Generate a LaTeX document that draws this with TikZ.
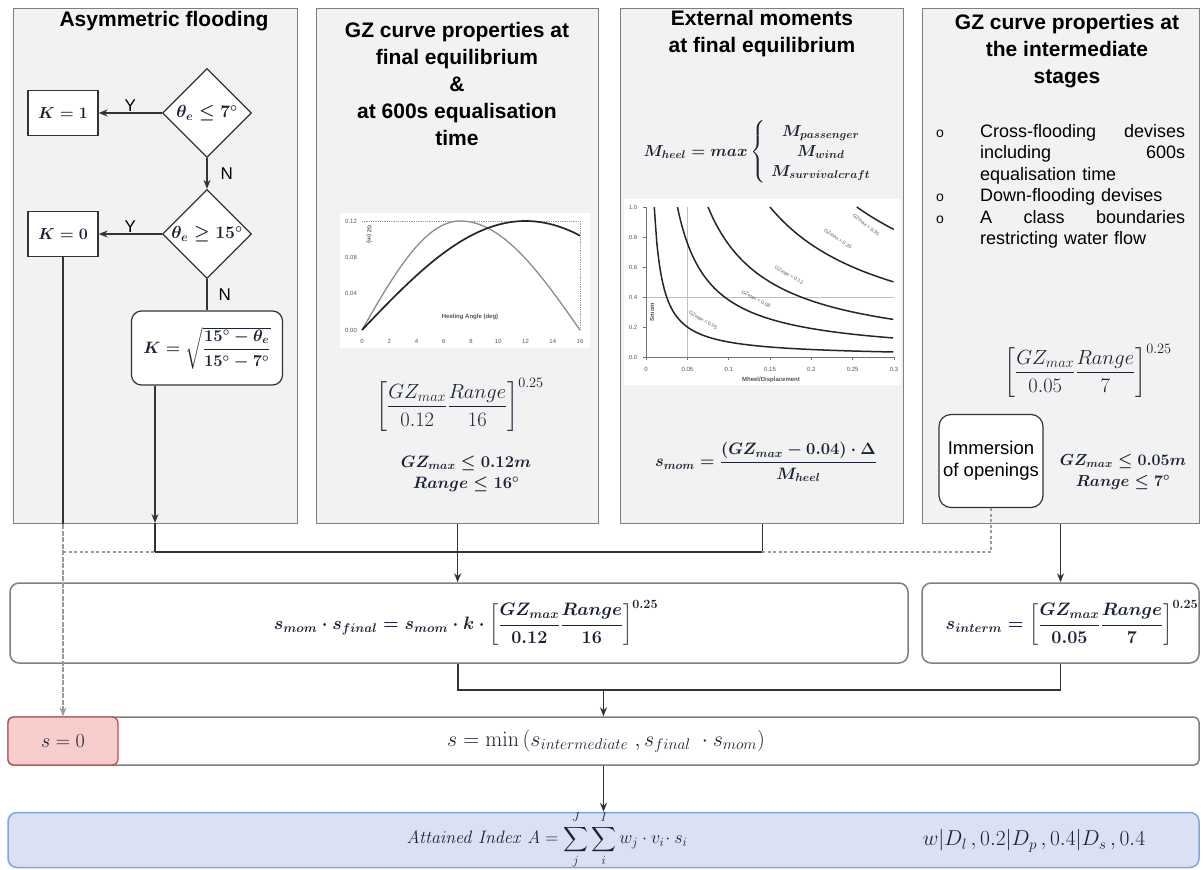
\RequirePackage{fix-cm}
\documentclass[tikz,border=0pt]{standalone}
\usepackage{amsmath}
\usepackage[no-math]{fontspec}
\setmainfont{Liberation Sans}
\usetikzlibrary{shapes.geometric,arrows.meta,calc}
\definecolor{panelfill}{HTML}{F2F2F2}
\definecolor{paneldraw}{HTML}{7F7F7F}
\definecolor{linec}{HTML}{333333}
\definecolor{mathc}{HTML}{1A2233}
\definecolor{redfill}{HTML}{F8CECC}
\definecolor{reddraw}{HTML}{B85450}
\definecolor{bluefill}{HTML}{D9E1F2}
\definecolor{bluedraw}{HTML}{7EA6E0}
\definecolor{dashc}{HTML}{9A9A9A}
\definecolor{tickc}{HTML}{555555}
\newcommand{\fsz}[2]{\fontsize{#1}{#2}\selectfont}
\begin{document}
\begin{tikzpicture}[x=1pt,y=-1pt,
  panel/.style={draw=paneldraw,fill=panelfill,line width=1.2pt,rectangle,inner sep=0pt,anchor=north west},
  ttl/.style={font=\fsz{21}{27}\bfseries,align=center,inner sep=0pt},
  dec/.style={diamond,draw=linec,fill=white,line width=1.2pt,minimum width=89pt,minimum height=89pt,inner sep=0pt,font=\fsz{17.5}{20}\boldmath,text=mathc},
  kbox/.style={rectangle,draw=linec,fill=white,line width=1.3pt,minimum width=70pt,minimum height=45pt,font=\fsz{16}{19}\boldmath,text=mathc},
  rbox/.style={rectangle,rounded corners=10pt,draw=linec,fill=white,line width=1.2pt},
  wbox/.style={rectangle,rounded corners=9pt,draw=paneldraw,fill=white,line width=1.5pt,inner sep=0pt},
  conn/.style={draw=linec,line width=1.2pt},
  arr/.style={conn,-{Stealth[length=9pt,width=7pt]}},
  dotline/.style={draw=dashc,line width=1.2pt,dash pattern=on 3pt off 2.5pt},
  garr/.style={draw=dashc,line width=1.2pt,dash pattern=on 5pt off 1.5pt,-{Stealth[length=9pt,width=7pt]}},
  lbl/.style={font=\fsz{17}{20},inner sep=1pt},
  fm/.style={font=\fsz{20.5}{24},text=mathc,inner sep=0pt},
  fmb/.style={font=\fsz{16.5}{21.5}\boldmath,text=mathc,inner sep=0pt,align=center},
  tick/.style={font=\fsz{6}{7},text=tickc,inner sep=0pt},
  bul/.style={font=\fsz{18}{21.5},text width=205pt,align=left,inner sep=0pt,anchor=north west},
]
\useasboundingbox (0,0) rectangle (1203,870);

% ---------- panels ----------
\node[panel,minimum width=284pt,minimum height=515pt] (p1) at (13,8) {};
\node[panel,minimum width=282pt,minimum height=515pt] (p2) at (316,8) {};
\node[panel,minimum width=283pt,minimum height=515pt] (p3) at (620,8) {};
\node[panel,minimum width=277pt,minimum height=515pt] (p4) at (922,8) {};

\node[ttl] (t1) at (164,21) {Asymmetric flooding};
\node[ttl] (t2) at (457,84) {GZ curve properties at\\final equilibrium\\\&\\at 600s equalisation\\time};
\node[ttl] (t3) at (762,34) {External moments\\at final equilibrium};
\node[ttl] (t4) at (1067,51) {GZ curve properties at\\the intermediate\\stages};

% ---------- panel 1 flowchart ----------
\node[dec] (d1) at (207,113) {$\theta_e\le 7^\circ$};
\node[dec] (d2) at (207,234) {$\theta_e\ge 15^\circ$};
\node[kbox] (k1) at (63,113) {$K=1$};
\node[kbox] (k0) at (63,234) {$K=0$};
\node[rbox,minimum width=151pt,minimum height=74pt,font=\fsz{16.5}{19}\boldmath,text=mathc] (ksq) at (207,348)
  {$K=\sqrt{\dfrac{15^\circ-\theta_e}{15^\circ-7^\circ}}$};

\draw[arr] (d1.west) -- node[lbl,above] (y1) {Y} (k1.east);
\draw[arr] (d1.south) -- node[lbl,right=12pt] (n1) {N} (d2.north);
\draw[arr] (d2.west) -- node[lbl,above] (y2) {Y} (k0.east);
\draw[conn] (d2.south) -- node[lbl,right=10pt] (n2) {N} (ksq.north);

% ---------- panel 2 chart ----------
\node[rectangle,fill=white,minimum width=250pt,minimum height=135pt,anchor=north west,inner sep=0pt] (ch1) at (340,213) {};
\draw[dashc,line width=0.8pt,densely dotted] (362,221) -- (580,221) -- (580,330);
\draw[black!45,line width=1.3pt] plot[domain=0:7.2,samples=40,smooth] ({362+13.625*\x},{330-109*sin(90*\x/7.2)});
\draw[black!45,line width=1.3pt] plot[domain=7.2:16,samples=40,smooth] ({362+13.625*\x},{330-109*cos(90*(\x-7.2)/8.8)});
\draw[black!85,line width=1.7pt] plot[domain=0:16,samples=60,smooth] ({362+13.625*\x},{330-109*sin(7.5*\x)});
\foreach \v/\t [count=\i] in {0/0.00,0.04/0.04,0.08/0.08,0.12/0.12}
  \node[tick] (gy\i) at (351,{330-908*\v}) {\t};
\foreach \v [count=\i] in {0,2,4,6,8,10,12,14,16}
  \node[tick] (gx\i) at ({362+13.625*\v},341) {\v};
\node[tick,rotate=-90,font=\fsz{5.5}{6}\bfseries] (gzl) at (369,234) {GZ (m)};
\node[tick,font=\fsz{6}{7}\bfseries] (hal) at (470,317) {Heeling Angle (deg)};

\node[fm] (f2) at (460,405) {$\displaystyle\left[\frac{GZ_{max}}{0.12}\frac{Range}{16}\right]^{0.25}$};
\node[fmb] (c2) at (466,474) {$GZ_{max}\le 0.12m$\\$Range\le 16^\circ$};

% ---------- panel 3 ----------
\node[fmb,font=\fsz{16}{20}\boldmath] (mh) at (760,152)
  {$M_{heel}=max\left\{\begin{array}{c}M_{passenger}\\M_{wind}\\M_{survivalcraft}\end{array}\right.$};

\node[rectangle,fill=white,minimum width=277pt,minimum height=186pt,anchor=north west,inner sep=0pt] (ch2) at (624,199) {};
\draw[black!25,line width=0.8pt] (646,297) -- (894,297);
\draw[black!25,line width=0.8pt] (687.3,207) -- (687.3,357);
\draw[black!55,line width=0.7pt] (646,207) -- (646,357) -- (894,357);
\foreach \k in {0,1,...,5} \draw[black!55,line width=0.7pt] (643,{357-30*\k}) -- (646,{357-30*\k});
\foreach \v in {0,0.05,0.1,0.15,0.2,0.25,0.3} \draw[black!55,line width=0.7pt] ({646+826.7*\v},357) -- ({646+826.7*\v},360);
\foreach \a in {0.01,0.038,0.075,0.15,0.255}
  \draw[black!85,line width=1.5pt] plot[domain=\a:0.3,samples=90,smooth] ({646+826.7*\x},{357-150*\a/\x});
\foreach \t [count=\i] in {0.0,0.2,0.4,0.6,0.8,1.0}
  \node[tick] (sy\i) at (633,{357-30*(\i-1)}) {\t};
\foreach \v/\t [count=\i] in {0/0,0.05/0.05,0.1/0.1,0.15/0.15,0.2/0.2,0.25/0.25,0.3/0.3}
  \node[tick] (sx\i) at ({646+826.7*\v},369) {\t};
\node[tick,font=\fsz{6}{7}\bfseries] (mdl) at (771,380) {Mheel/Displacement};
\node[tick,rotate=90,font=\fsz{6}{7}\bfseries] (sml) at (652,312) {Smom};
\node[tick,font=\fsz{5}{6},rotate=-30] (g05) at (703,320) {GZmax = 0.05};
\node[tick,font=\fsz{5}{6},rotate=-28] (g08) at (756,299) {GZmax = 0.08};
\node[tick,font=\fsz{5}{6},rotate=-30] (g12) at (789,275) {GZmax = 0.12};
\node[tick,font=\fsz{5}{6},rotate=-33] (g20) at (838,239) {GZmax = 0.20};
\node[tick,font=\fsz{5}{6},rotate=-38] (g30) at (866,225) {GZmax = 0.30};

\node[fmb,font=\fsz{16.5}{22}\boldmath] (smf) at (766,462) {$s_{mom}=\dfrac{(GZ_{max}-0.04)\cdot\Delta}{M_{heel}}$};

% ---------- panel 4 ----------
\node[font=\fsz{14}{16},inner sep=0pt] (o1) at (940,134) {o};
\node[font=\fsz{14}{16},inner sep=0pt] (o2) at (940,198) {o};
\node[font=\fsz{14}{16},inner sep=0pt] (o3) at (940,220) {o};
\node[bul] (b1) at (980,124) {Cross-flooding\hfill devises\\including\hfill 600s\\equalisation time};
\node[bul] (b2) at (980,188) {Down-flooding devises};
\node[bul] (b3) at (980,210) {A\hfill class\hfill boundaries\\restricting water flow};

\node[fm] (f4) at (1088,371) {$\displaystyle\left[\frac{GZ_{max}}{0.05}\frac{Range}{7}\right]^{0.25}$};
\node[rbox,minimum width=104pt,minimum height=93pt,rounded corners=12pt,font=\fsz{18.5}{22},align=center,inner sep=0pt] (imm) at (991,461) {Immersion\\of openings};
\node[fmb,font=\fsz{16}{21}\boldmath] (c4) at (1123,472) {$GZ_{max}\le 0.05m$\\$Range\le 7^\circ$};

% ---------- lower boxes ----------
\node[wbox,minimum width=898pt,minimum height=80pt] (smom) at (459,623) {};
\node[wbox,minimum width=277pt,minimum height=80pt] (sint) at (1060.5,623) {};
\node[wbox,rounded corners=5pt,minimum width=1191pt,minimum height=48pt] (srow) at (603.5,741) {};
\node[rectangle,rounded corners=6pt,draw=reddraw,fill=redfill,line width=1.3pt,minimum width=110pt,minimum height=48pt,font=\fsz{20}{22},text=mathc] (s0) at (63,741) {$s=0$};
\node[rectangle,rounded corners=9pt,draw=bluedraw,fill=bluefill,line width=1.5pt,minimum width=1191pt,minimum height=55pt,inner sep=0pt] (blue) at (603.5,840) {};

\node[fmb,font=\fsz{18}{22}\boldmath] (smomt) at (466,623)
  {$s_{mom}\cdot s_{final}=s_{mom}\cdot k\cdot\left[\dfrac{GZ_{max}}{0.12}\dfrac{Range}{16}\right]^{0.25}$};
\node[fmb,font=\fsz{18}{22}\boldmath] (sintt) at (1072,623)
  {$s_{interm}=\left[\dfrac{GZ_{max}}{0.05}\dfrac{Range}{7}\right]^{0.25}$};
\node[fm,font=\fsz{22}{24}] (srowt) at (606,741) {$s=\min\left(s_{intermediate}\ ,s_{final}\ \cdot s_{mom}\right)$};
\node[fm,font=\fsz{18}{20}] (at1) at (547,840) {$\mathit{Attained\ Index\ A}=\displaystyle\sum_{j}^{J}\sum_{i}^{I}w_j\cdot v_i\!\cdot s_i$};
\node[fm,font=\fsz{21.5}{24}] (at2) at (1034,841) {$w|D_l\,,0.2|D_p\,,0.4|D_s\,,0.4$};

% ---------- connectors ----------
\coordinate (b1c) at (155,523);
\coordinate (j1) at (155,552);
\coordinate (j0) at (k0.south |- j1);
\coordinate (j2) at (p2.south |- j1);
\coordinate (j3) at (p3.south |- j1);
\coordinate (j4) at (imm.south |- j1);
\coordinate (j5) at (458,690);
\coordinate (k0b) at (k0.south |- p1.south);

\draw[arr] (ksq.south -| b1c) -- (b1c);
\draw[conn] (b1c) -- (j1);
\draw[conn] (k0.south) -- (k0b);
\draw[garr] (k0b) -- (s0.north);
\draw[dotline] (j0) -- (j1);
\draw[conn] (j1) -- (j3);
\draw[conn] (p2.south) -- (j2);
\draw[conn] (p3.south) -- (j3);
\draw[dotline] (j3) -- (j4) -- (imm.south);
\draw[arr] (j2) -- (j2 |- smom.north);
\draw[arr] (sint.north |- p4.south) -- (sint.north);
\draw[conn] (j5 |- smom.south) -- (j5) -- (j5 -| sint.south) -- (sint.south);
\draw[arr] (srow.north |- j5) -- (srow.north);
\draw[arr] (srow.south) -- (blue.north);
\end{tikzpicture}
\end{document}
